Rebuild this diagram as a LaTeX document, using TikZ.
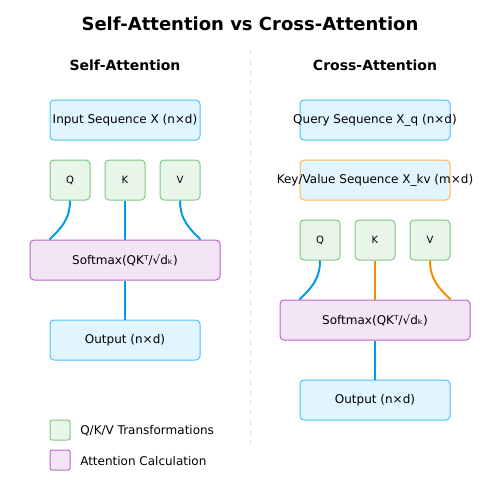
\documentclass[tikz,border=0pt]{standalone}
\usepackage{fontspec}
\setmainfont{DejaVu Sans}
\usetikzlibrary{positioning}
\definecolor{seqfill}{HTML}{E1F5FE}
\definecolor{seqline}{HTML}{4FC3F7}
\definecolor{qkvfill}{HTML}{E8F5E9}
\definecolor{qkvline}{HTML}{81C784}
\definecolor{attfill}{HTML}{F3E5F5}
\definecolor{attline}{HTML}{BA68C8}
\definecolor{kvline}{HTML}{FFB74D}
\definecolor{flowblue}{HTML}{039BE5}
\definecolor{floworange}{HTML}{FB8C00}
\definecolor{divider}{HTML}{E0E0E0}
\tikzset{
    seqbox/.style={rectangle, rounded corners=3pt, draw=seqline, fill=seqfill, line width=0.75pt, minimum width=112.5pt, minimum height=30pt, inner sep=0pt, font=\fontsize{9}{11}\selectfont},
    qkvbox/.style={rectangle, rounded corners=3pt, draw=qkvline, fill=qkvfill, line width=0.75pt, minimum size=30pt, inner sep=0pt, font=\fontsize{7.5}{9}\selectfont},
    attbox/.style={rectangle, rounded corners=3pt, draw=attline, fill=attfill, line width=0.75pt, minimum width=142.5pt, minimum height=30pt, inner sep=0pt, font=\fontsize{9}{11}\selectfont},
    keybox/.style={rectangle, rounded corners=1.5pt, draw, fill, line width=0.75pt, minimum size=15pt, inner sep=0pt},
    keytext/.style={anchor=west, inner sep=0pt, font=\fontsize{9}{11}\selectfont},
    flow/.style={line width=1.5pt, flowblue},
    kvflow/.style={line width=1.5pt, floworange}
}
\begin{document}
\begin{tikzpicture}[x=0.75pt, y=-0.75pt]
    \useasboundingbox (0,0) rectangle (500,500);

    % Titles
    \node[font=\bfseries\fontsize{13.5}{16}\selectfont] (title) at (250,24) {Self-Attention vs Cross-Attention};
    \node[font=\bfseries\fontsize{10.5}{13}\selectfont] (stitle) at (125,65) {Self-Attention};
    \node[font=\bfseries\fontsize{10.5}{13}\selectfont] (ctitle) at (375,65) {Cross-Attention};
    \draw[divider, line width=0.75pt, dash pattern=on 3.75pt off 3.75pt] (250,50) -- (250,445);

    % Self-Attention
    \node[seqbox] (sin) at (125,120) {Input Sequence X (n×d)};
    \node[qkvbox] (sq) at (70,180) {Q};
    \node[qkvbox] (sk) at (125,180) {K};
    \node[qkvbox] (sv) at (180,180) {V};
    \node[attbox] (ssm) at (125,260) {Softmax(QKᵀ/√dₖ)};
    \node[seqbox] (sout) at (125,340) {Output (n×d)};

    \draw[flow] (sq.south) .. controls +(0,20) and +(10,-10) .. (sq.west |- ssm.north);
    \draw[flow] (sk.south) -- (ssm.north);
    \draw[flow] (sv.south) .. controls +(0,20) and +(-10,-10) .. (sv.east |- ssm.north);
    \draw[flow] (ssm.south) -- (sout.north);

    % Cross-Attention
    \node[seqbox] (cin) at (375,120) {\makebox[0pt]{Query Sequence X\_q (n×d)}};
    \node[seqbox, draw=kvline] (ckv) at (375,180) {\makebox[0pt]{Key/Value Sequence X\_kv (m×d)}};
    \node[qkvbox] (cq) at (320,240) {Q};
    \node[qkvbox] (ck) at (375,240) {K};
    \node[qkvbox] (cv) at (430,240) {V};
    \node[attbox] (csm) at (375,320) {Softmax(QKᵀ/√dₖ)};
    \node[seqbox] (cout) at (375,400) {Output (n×d)};

    \draw[flow] (cq.south) .. controls +(0,20) and +(10,-10) .. (cq.west |- csm.north);
    \draw[kvflow] (ck.south) -- (csm.north);
    \draw[kvflow] (cv.south) .. controls +(0,20) and +(-10,-10) .. (cv.east |- csm.north);
    \draw[flow] (csm.south) -- (cout.north);

    % Legend
    \node[keybox, draw=qkvline, fill=qkvfill] (lqkv) at (60,430) {};
    \node[keytext] (tqkv) at (80,431) {Q/K/V Transformations};
    \node[keybox, draw=attline, fill=attfill] (latt) at (60,460) {};
    \node[keytext] (tatt) at (80,461) {Attention Calculation};
\end{tikzpicture}
\end{document}
